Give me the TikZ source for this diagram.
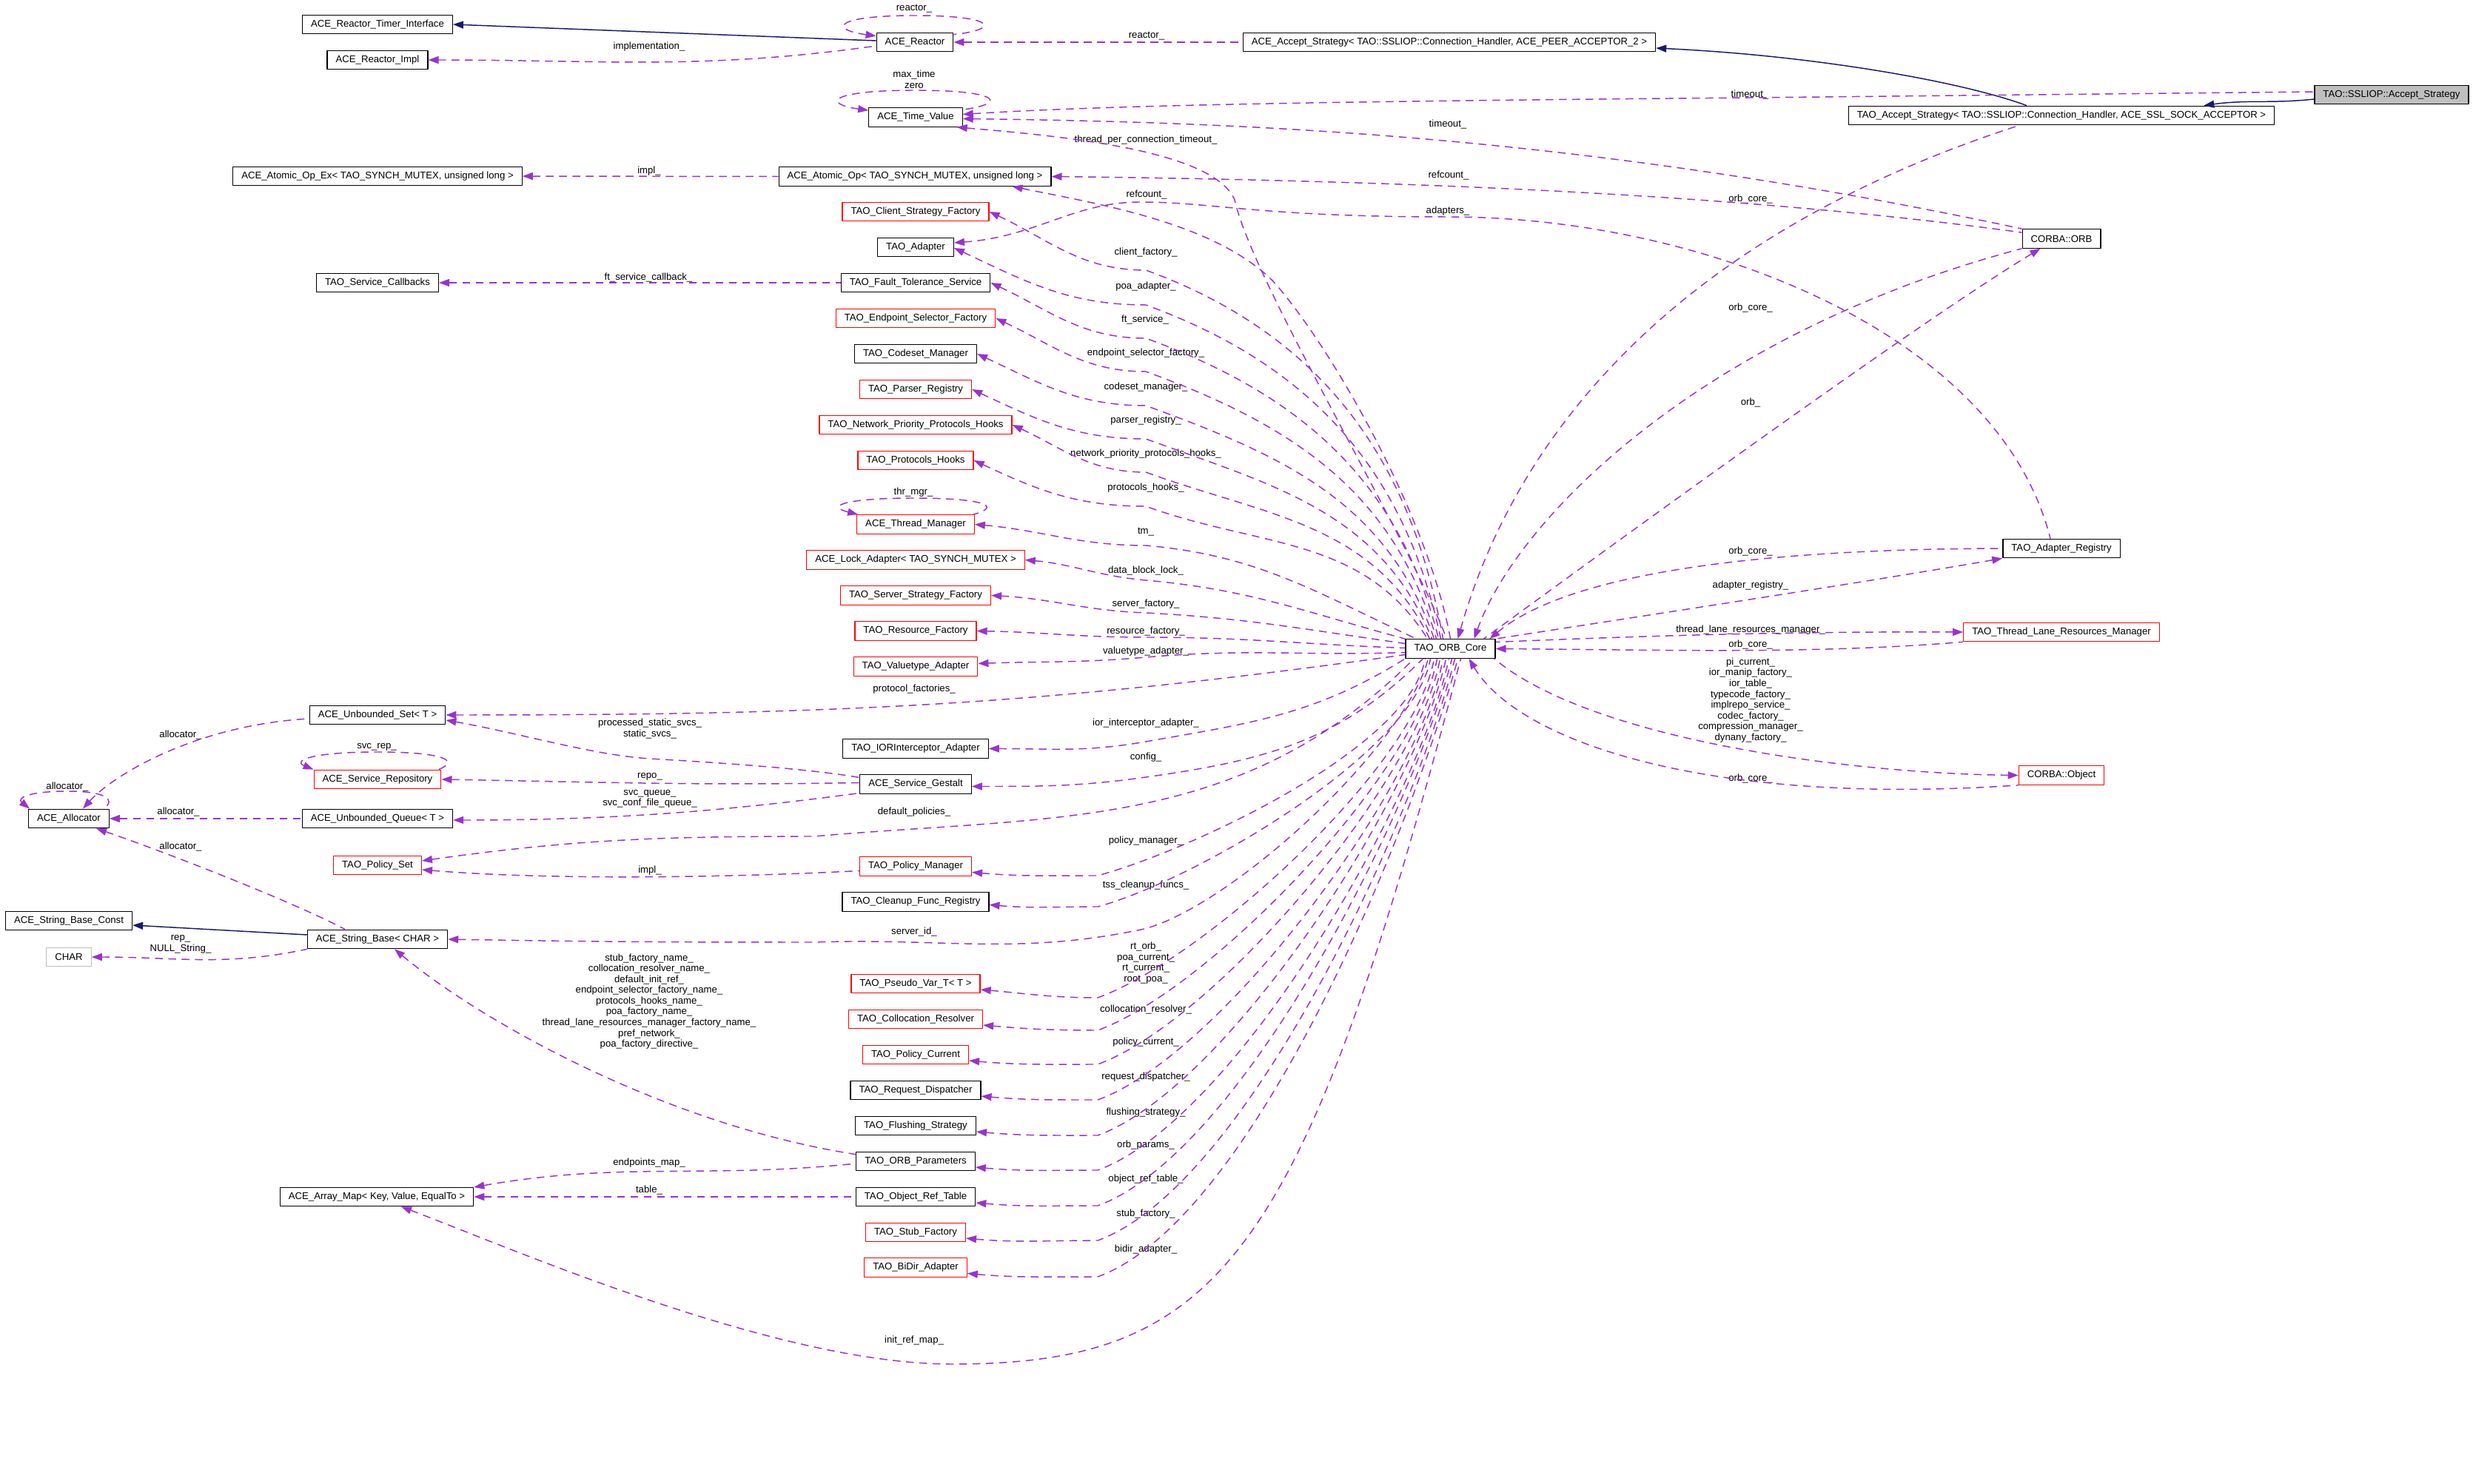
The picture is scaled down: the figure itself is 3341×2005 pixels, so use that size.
\documentclass[tikz,border=0pt]{standalone}
\usepackage{fontspec}
\setmainfont{Liberation Sans}
\usetikzlibrary{arrows.meta,calc}
\definecolor{usecol}{HTML}{9A32CD}
\definecolor{inhcol}{HTML}{191970}
\definecolor{graybox}{HTML}{BFBFBF}
\newcommand{\txtsize}{\fontsize{3.75pt}{4.15pt}\selectfont}
\begin{document}
\begin{tikzpicture}[x=0.1mm, y=0.1mm, font=\txtsize, line join=round,
    box/.style={draw=black, line width=0.35pt, fill=white, inner xsep=1.15mm, inner ysep=0pt, minimum height=2.55mm},
    redbox/.style={box, draw=red},
    lbl/.style={inner sep=0pt, align=center},
    use/.style={draw=usecol, line width=0.42pt, dash pattern=on 1.05mm off 0.75mm, {Triangle[length=1.4mm,width=1mm]}-},
    inh/.style={draw=inhcol, line width=0.42pt, {Triangle[length=1.4mm,width=1mm]}-}]
\useasboundingbox (0,0) rectangle (3341,-2005);
% classes
\node[box] (rti) at (510,-33) {ACE\_Reactor\_Timer\_Interface};
\node[box] (rimpl) at (510,-81) {ACE\_Reactor\_Impl};
\node[box] (reactor) at (1236,-57) {ACE\_Reactor};
\node[box] (aas) at (1958,-57) {ACE\_Accept\_Strategy< TAO::SSLIOP::Connection\_Handler, ACE\_PEER\_ACCEPTOR\_2 >};
\node[box, fill=graybox] (ssl) at (3231,-128) {TAO::SSLIOP::Accept\_Strategy};
\node[box] (tas) at (2785,-156) {TAO\_Accept\_Strategy< TAO::SSLIOP::Connection\_Handler, ACE\_SSL\_SOCK\_ACCEPTOR >};
\node[box] (tv) at (1237,-158.5) {ACE\_Time\_Value};
\node[box] (aopex) at (510,-238) {ACE\_Atomic\_Op\_Ex< TAO\_SYNCH\_MUTEX, unsigned long >};
\node[box] (aop) at (1236,-238.5) {ACE\_Atomic\_Op< TAO\_SYNCH\_MUTEX, unsigned long >};
\node[redbox] (csf) at (1237,-286) {TAO\_Client\_Strategy\_Factory};
\node[box] (adapter) at (1237,-334) {TAO\_Adapter};
\node[box] (scb) at (510,-382) {TAO\_Service\_Callbacks};
\node[box] (fts) at (1237,-382) {TAO\_Fault\_Tolerance\_Service};
\node[redbox] (esf) at (1237,-430) {TAO\_Endpoint\_Selector\_Factory};
\node[box] (csm) at (1237,-478) {TAO\_Codeset\_Manager};
\node[redbox] (preg) at (1237,-526) {TAO\_Parser\_Registry};
\node[redbox] (npph) at (1237,-574) {TAO\_Network\_Priority\_Protocols\_Hooks};
\node[redbox] (ph) at (1237,-622) {TAO\_Protocols\_Hooks};
\node[redbox] (thr) at (1237,-708.5) {ACE\_Thread\_Manager};
\node[redbox] (lock) at (1237,-756.5) {ACE\_Lock\_Adapter< TAO\_SYNCH\_MUTEX >};
\node[redbox] (ssf) at (1237,-804.5) {TAO\_Server\_Strategy\_Factory};
\node[redbox] (rf) at (1237,-852.5) {TAO\_Resource\_Factory};
\node[redbox] (vta) at (1237,-900.5) {TAO\_Valuetype\_Adapter};
\node[box] (uset) at (510,-966) {ACE\_Unbounded\_Set< T >};
\node[box] (iori) at (1237,-1011.5) {TAO\_IORInterceptor\_Adapter};
\node[redbox] (srep) at (510,-1053) {ACE\_Service\_Repository};
\node[box] (gestalt) at (1237,-1059.5) {ACE\_Service\_Gestalt};
\node[box] (alloc) at (93,-1106) {ACE\_Allocator};
\node[box] (uqueue) at (510,-1106) {ACE\_Unbounded\_Queue< T >};
\node[redbox] (pset) at (510,-1169) {TAO\_Policy\_Set};
\node[redbox] (pman) at (1237,-1170.5) {TAO\_Policy\_Manager};
\node[box] (cfr) at (1237,-1218.4) {TAO\_Cleanup\_Func\_Registry};
\node[box] (sbc) at (93,-1244) {ACE\_String\_Base\_Const};
\node[box] (sbase) at (510,-1269) {ACE\_String\_Base< CHAR >};
\node[box, draw=graybox] (chr) at (93,-1293) {CHAR};
\node[redbox] (pvar) at (1237,-1329) {TAO\_Pseudo\_Var\_T< T >};
\node[redbox] (coll) at (1237,-1377) {TAO\_Collocation\_Resolver};
\node[redbox] (pcur) at (1237,-1425) {TAO\_Policy\_Current};
\node[box] (rdisp) at (1237,-1473) {TAO\_Request\_Dispatcher};
\node[box] (flush) at (1237,-1521) {TAO\_Flushing\_Strategy};
\node[box] (params) at (1237,-1569) {TAO\_ORB\_Parameters};
\node[box] (ort) at (1237,-1617) {TAO\_Object\_Ref\_Table};
\node[box] (amap) at (509,-1617) {ACE\_Array\_Map< Key, Value, EqualTo >};
\node[redbox] (stub) at (1237,-1665) {TAO\_Stub\_Factory};
\node[redbox] (bidir) at (1237,-1712.5) {TAO\_BiDir\_Adapter};
\node[box] (core) at (1959.5,-876.5) {TAO\_ORB\_Core};
\node[box] (orb) at (2785,-322.5) {CORBA::ORB};
\node[box] (areg) at (2785,-741) {TAO\_Adapter\_Registry};
\node[redbox] (tlrm) at (2785,-854) {TAO\_Thread\_Lane\_Resources\_Manager};
\node[redbox] (obj) at (2785,-1047.5) {CORBA::Object};
% member names
\node[lbl] (lreactorloop) at (1235,-12) {reactor\_};
\node[lbl] (limplementation) at (877,-63) {implementation\_};
\node[lbl] (lreactor) at (1549,-49) {reactor\_};
\node[lbl] (ltvloop) at (1235,-107.5) {max\_time\\zero};
\node[lbl] (ltimeout) at (2364,-128) {timeout\_};
\node[lbl] (ltimeoutorb) at (1956,-168) {timeout\_};
\node[lbl] (ltpct) at (1548,-189) {thread\_per\_connection\_timeout\_};
\node[lbl] (limpl) at (877,-231) {impl\_};
\node[lbl] (lrefcountorb) at (1957,-237) {refcount\_};
\node[lbl] (lrefcount) at (1549,-263) {refcount\_};
\node[lbl] (lorbcoretas) at (2365,-269) {orb\_core\_};
\node[lbl] (ladapters) at (1956,-285) {adapters\_};
\node[lbl] (lclient) at (1548,-341) {client\_factory\_};
\node[lbl] (lftcb) at (876,-375) {ft\_service\_callback\_};
\node[lbl] (lpoa) at (1548,-387) {poa\_adapter\_};
\node[lbl] (lorbcoreorb) at (2365,-416) {orb\_core\_};
\node[lbl] (lft) at (1547,-432) {ft\_service\_};
\node[lbl] (lesf) at (1548,-477) {endpoint\_selector\_factory\_};
\node[lbl] (lcsm) at (1548,-523) {codeset\_manager\_};
\node[lbl] (lorb) at (2365,-544) {orb\_};
\node[lbl] (lpreg) at (1548,-568) {parser\_registry\_};
\node[lbl] (lnpph) at (1548,-613) {network\_priority\_protocols\_hooks\_};
\node[lbl] (lph) at (1548,-659) {protocols\_hooks\_};
\node[lbl] (lthrloop) at (1234,-665) {thr\_mgr\_};
\node[lbl] (ltm) at (1548,-719) {tm\_};
\node[lbl] (lorbcoreareg) at (2365,-745) {orb\_core\_};
\node[lbl] (ldbl) at (1548,-771) {data\_block\_lock\_};
\node[lbl] (lareg) at (2365,-791) {adapter\_registry\_};
\node[lbl] (lssf) at (1548,-816) {server\_factory\_};
\node[lbl] (ltlrm) at (2365,-851) {thread\_lane\_resources\_manager\_};
\node[lbl] (lrf) at (1548,-853) {resource\_factory\_};
\node[lbl] (lorbcoretlrm) at (2365,-871) {orb\_core\_};
\node[lbl] (lvta) at (1548,-880) {valuetype\_adapter\_};
\node[lbl] (lpf) at (1235,-931) {protocol\_factories\_};
\node[lbl] (lobj) at (2365,-946) {pi\_current\_\\ior\_manip\_factory\_\\ior\_table\_\\typecode\_factory\_\\implrepo\_service\_\\codec\_factory\_\\compression\_manager\_\\dynany\_factory\_};
\node[lbl] (lior) at (1548,-977) {ior\_interceptor\_adapter\_};
\node[lbl] (lstatic) at (878,-984.5) {processed\_static\_svcs\_\\static\_svcs\_};
\node[lbl] (lalloc1) at (244,-993) {allocator\_};
\node[lbl] (lsrep) at (509,-1009) {svc\_rep\_};
\node[lbl] (lconfig) at (1548,-1023) {config\_};
\node[lbl] (lrepo) at (878,-1049) {repo\_};
\node[lbl] (lorbcoreobj) at (2365,-1052) {orb\_core\_};
\node[lbl] (lallocloop) at (91,-1063) {allocator\_};
\node[lbl] (lsvcq) at (878,-1079.5) {svc\_queue\_\\svc\_conf\_file\_queue\_};
\node[lbl] (ldp) at (1235,-1097) {default\_policies\_};
\node[lbl] (lalloc2) at (241,-1097) {allocator\_};
\node[lbl] (lpm) at (1548,-1136) {policy\_manager\_};
\node[lbl] (lalloc3) at (244,-1144) {allocator\_};
\node[lbl] (limplps) at (878,-1176) {impl\_};
\node[lbl] (ltss) at (1548,-1196) {tss\_cleanup\_funcs\_};
\node[lbl] (lsid) at (1235,-1259) {server\_id\_};
\node[lbl] (lrep) at (244,-1276) {rep\_\\NULL\_String\_};
\node[lbl] (lpvar) at (1548,-1301) {rt\_orb\_\\poa\_current\_\\rt\_current\_\\root\_poa\_};
\node[lbl] (lnames) at (877,-1353) {stub\_factory\_name\_\\collocation\_resolver\_name\_\\default\_init\_ref\_\\endpoint\_selector\_factory\_name\_\\protocols\_hooks\_name\_\\poa\_factory\_name\_\\thread\_lane\_resources\_manager\_factory\_name\_\\pref\_network\_\\poa\_factory\_directive\_};
\node[lbl] (lcoll) at (1548,-1364) {collocation\_resolver\_};
\node[lbl] (lpcur) at (1548,-1408) {policy\_current\_};
\node[lbl] (lrd) at (1548,-1455) {request\_dispatcher\_};
\node[lbl] (lfs) at (1548,-1503) {flushing\_strategy\_};
\node[lbl] (lop) at (1548,-1547) {orb\_params\_};
\node[lbl] (lemap) at (877,-1571) {endpoints\_map\_};
\node[lbl] (lort) at (1548,-1593) {object\_ref\_table\_};
\node[lbl] (ltable) at (877,-1608) {table\_};
\node[lbl] (lstub) at (1548,-1640) {stub\_factory\_};
\node[lbl] (lbidir) at (1548,-1688) {bidir\_adapter\_};
\node[lbl] (lirm) at (1235,-1811) {init\_ref\_map\_};
% inheritance
\draw[inh] (rti.east) -- ($(reactor.west)+(0,2)$);
\draw[inh] ($(aas.east)+(0,-8)$) .. controls (2450,-75) and (2650,-110) .. ($(tas.north)+(-47,0)$);
\draw[inh] ($(tas.north east)+(-96,0)$) to[out=8,in=186] ($(ssl.west)+(0,-6)$);
\draw[inh] ($(sbc.east)+(0,-6)$) -- ($(sbase.west)+(0,6)$);
% top row
\draw[use] ($(reactor.north west)+(0,-5)$) .. controls (1120,-40) and (1125,-21) .. (1236,-21) .. controls (1347,-21) and (1352,-40) .. ($(reactor.north east)+(0,-3)$);
\draw[use] (rimpl.east) to[out=0,in=188] ($(reactor.west)+(0,-5)$);
\draw[use] (reactor.east) -- (aas.west);
\draw[use] ($(tv.north west)+(0,-4)$) .. controls (1110,-140) and (1120,-122) .. (1236,-122) .. controls (1352,-122) and (1362,-140) .. ($(tv.north east)+(0,-3)$);
\draw[use] ($(tv.east)+(0,4)$) .. controls (1500,-142) and (1800,-137) .. (2364,-132) -- ($(ssl.west)+(0,4)$);
\draw[use] ($(tv.east)+(0,-2)$) .. controls (1700,-165) and (2150,-185) .. (orb.north west);
\draw[use] ($(tv.south east)+(-8,0)$) .. controls (1450,-185) and (1640,-205) .. (1668,-270) .. controls (1692,-380) and (1900,-720) .. ($(core.north)+(-5,0)$);
\draw[use] (aopex.east) -- (aop.west);
\draw[use] (aop.east) .. controls (1900,-244) and (2350,-262) .. ($(orb.north west)+(0,-5)$);
\draw[use] ($(aop.south east)+(-53,0)$) .. controls (1480,-275) and (1640,-300) .. (1720,-380) .. controls (1800,-470) and (1930,-700) .. (core.north);
\draw[use] ($(adapter.east)+(0,6)$) .. controls (1400,-320) and (1450,-273) .. (1540,-273) .. controls (1640,-273) and (1700,-293) .. (1956,-293) .. controls (2300,-293) and (2700,-450) .. ($(areg.north)+(-15,0)$);
\draw[use] (scb.east) -- (fts.west);
% right side
\draw[use] ($(core.north)+(32,0)$) .. controls (2050,-700) and (2300,-450) .. (orb.south west);
\draw[use] ($(orb.south west)+(25,0)$) .. controls (2600,-430) and (2200,-720) .. ($(core.north east)+(-16,0)$);
\draw[use] ($(core.north)+(10,0)$) .. controls (2030,-650) and (2200,-340) .. ($(tas.south)+(-57,0)$);
\draw[use] ($(core.north east)+(-8,0)$) .. controls (2100,-790) and (2300,-742) .. (areg.west);
\draw[use] (areg.south west) .. controls (2500,-790) and (2200,-835) .. (core.north east);
\draw[use] (tlrm.west) .. controls (2400,-853) and (2200,-860) .. ($(core.east)+(0,9)$);
\draw[use] (core.east) .. controls (2250,-878) and (2450,-884) .. (tlrm.south west);
\draw[use] (obj.west) .. controls (2500,-1045) and (2150,-1000) .. ($(core.south east)+(-2,0)$);
\draw[use] ($(core.south)+(25,0)$) .. controls (2050,-1000) and (2300,-1090) .. (obj.south west);
% members of the orb core, upper part
\draw[use] (csf.east) to[out=-25,in=180] (1548,-365) to[out=-20,in=100] ($(core.north)+(-10,0)$);
\draw[use] ($(adapter.east)+(0,-1)$) to[out=-25,in=180] (1548,-412) to[out=-20,in=102] ($(core.north)+(-13,0)$);
\draw[use] (fts.east) to[out=-25,in=180] (1548,-457) to[out=-20,in=104] ($(core.north)+(-16,0)$);
\draw[use] (esf.east) to[out=-25,in=180] (1548,-502) to[out=-20,in=106] ($(core.north)+(-19,0)$);
\draw[use] (csm.east) to[out=-25,in=180] (1548,-548) to[out=-20,in=109] ($(core.north)+(-22,0)$);
\draw[use] (preg.east) to[out=-25,in=180] (1548,-593) to[out=-20,in=112] ($(core.north)+(-25,0)$);
\draw[use] (npph.east) to[out=-25,in=180] (1548,-638) to[out=-20,in=116] ($(core.north)+(-28,0)$);
\draw[use] (ph.east) to[out=-25,in=180] (1548,-684) to[out=-20,in=122] ($(core.north)+(-31,0)$);
\draw[use] ($(thr.north west)+(2,0)$) .. controls (1115,-684) and (1140,-673) .. (1234,-673) .. controls (1330,-673) and (1355,-684) .. ($(thr.north east)+(-2,0)$);
\draw[use] (thr.east) to[out=-5,in=180] (1548,-737) to[out=-5,in=155] ($(core.north west)+(15,0)$);
\draw[use] (lock.east) to[out=-5,in=175] (1548,-784) to[out=-5,in=165] (core.north west);
\draw[use] (ssf.east) to[out=-3,in=178] (1548,-828) to[out=-3,in=172] ($(core.west)+(0,7)$);
\draw[use] (rf.east) to[out=-1,in=180] (1548,-861) to[out=0,in=178] ($(core.west)+(0,1)$);
\draw[use] ($(vta.east)+(0,4)$) to[out=2,in=185] (1548,-888) to[out=5,in=182] ($(core.west)+(0,-5)$);
\draw[use] (uset.east) to[out=0,in=188] ($(core.west)+(0,-8)$);
\draw[use] (iori.east) to[out=0,in=190] (1548,-1002) to[out=10,in=212] (core.south west);
\draw[use] ($(gestalt.east)+(0,-3)$) to[out=0,in=188] (1548,-1050) to[out=8,in=225] ($(core.south west)+(24,0)$);
% members of the orb core, lower part
\draw[use] ($(pset.east)+(0,6)$) to[out=8,in=180] (1100,-1130) to[out=5,in=225] ($(core.south west)+(12,0)$);
\draw[use] ($(pman.east)+(0,-8)$) to[out=-5,in=180] (1483,-1183) to[out=15,in=-100,looseness=.6] ($(core.south)+(-34,0)$);
\draw[use] ($(cfr.east)+(0,-4)$) to[out=-5,in=180] (1483,-1225) to[out=15,in=-100,looseness=.6] ($(core.south)+(-27,0)$);
\draw[use] (sbase.east) to[out=-1,in=180] (1100,-1273) to[out=2,in=192] (1546,-1255) to[out=15,in=-105,looseness=.6] ($(core.south)+(-30,0)$);
\draw[use] ($(pvar.east)+(0,-8)$) to[out=-5,in=180] (1483,-1348) to[out=20,in=-100,looseness=.6] ($(core.south)+(-22,0)$);
\draw[use] ($(coll.east)+(0,-8)$) to[out=-5,in=180] (1483,-1392) to[out=20,in=-100,looseness=.6] ($(core.south)+(-18,0)$);
\draw[use] ($(pcur.east)+(0,-8)$) to[out=-5,in=180] (1483,-1438) to[out=20,in=-100,looseness=.6] ($(core.south)+(-14,0)$);
\draw[use] ($(rdisp.east)+(0,-8)$) to[out=-5,in=180] (1483,-1486) to[out=20,in=-100,looseness=.6] ($(core.south)+(-10,0)$);
\draw[use] ($(flush.east)+(0,-8)$) to[out=-5,in=180] (1483,-1534) to[out=20,in=-102,looseness=.6] ($(core.south)+(-6,0)$);
\draw[use] ($(params.east)+(0,-8)$) to[out=-5,in=180] (1483,-1581) to[out=20,in=-102,looseness=.6] ($(core.south)+(-2,0)$);
\draw[use] ($(ort.east)+(0,-8)$) to[out=-5,in=180] (1483,-1629) to[out=20,in=-104,looseness=.6] ($(core.south)+(2,0)$);
\draw[use] ($(stub.east)+(0,-8)$) to[out=-5,in=180] (1483,-1676) to[out=20,in=-104,looseness=.6] ($(core.south)+(6,0)$);
\draw[use] ($(bidir.east)+(0,-8)$) to[out=-5,in=180] (1483,-1725) to[out=20,in=-105,looseness=.6] ($(core.south)+(10,0)$);
\draw[use] ($(amap.south)+(33,0)$) .. controls (700,-1690) and (1050,-1843) .. (1286,-1843) .. controls (1650,-1843) and (1760,-1700) .. ($(core.south)+(14,0)$);
% left part
\draw[use] ($(alloc.north)+(19,0)$) .. controls (150,-1050) and (260,-980) .. ($(uset.west)+(0,-5)$);
\draw[use] ($(alloc.north west)+(2,0)$) .. controls (22,-1078) and (40,-1069) .. (91,-1069) .. controls (142,-1069) and (158,-1080) .. ($(alloc.north east)+(-8,0)$);
\draw[use] (alloc.east) -- (uqueue.west);
\draw[use] ($(alloc.south)+(37,0)$) .. controls (220,-1150) and (400,-1220) .. ($(sbase.north)+(-44,0)$);
\draw[use] (chr.east) to[out=0,in=192] (sbase.south west);
\draw[use] (srep.north west) .. controls (395,-1028) and (420,-1016) .. (510,-1016) .. controls (600,-1016) and (622,-1028) .. ($(srep.north east)+(-4,0)$);
\draw[use] ($(uset.east)+(0,-7)$) .. controls (700,-990) and (800,-1020) .. (877,-1025) .. controls (1000,-1032) and (1100,-1040) .. ($(gestalt.west)+(0,9)$);
\draw[use] (srep.east) to[out=-1,in=181] ($(gestalt.west)+(0,2)$);
\draw[use] ($(uqueue.east)+(0,-2)$) .. controls (800,-1108) and (950,-1100) .. ($(gestalt.west)+(0,-12)$);
\draw[use] ($(pset.east)+(0,-6)$) .. controls (750,-1190) and (1000,-1185) .. ($(pman.west)+(0,-6)$);
\draw[use] ($(sbase.south)+(23,0)$) .. controls (650,-1380) and (900,-1520) .. ($(params.north west)+(0,-4)$);
\draw[use] ($(amap.east)+(0,13)$) to[out=10,in=186] ($(params.west)+(0,-3)$);
\draw[use] (amap.east) -- (ort.west);
\end{tikzpicture}
\end{document}
